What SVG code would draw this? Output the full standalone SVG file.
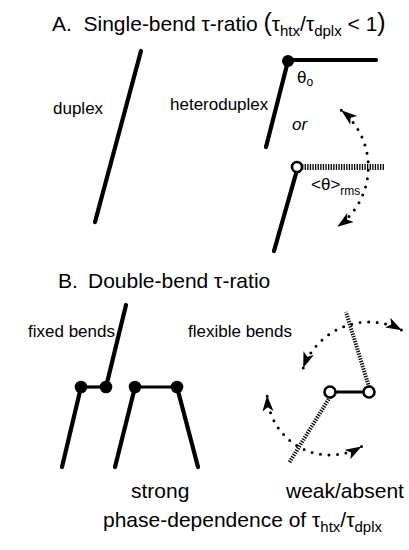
<svg xmlns="http://www.w3.org/2000/svg" width="409" height="550" viewBox="0 0 409 550">
<style>
text{font-family:"Liberation Sans",Arial,sans-serif;fill:#000}
.h{font-size:21px}
.lbl{font-size:17px}
.rod{stroke:#000;stroke-width:4.2;stroke-linecap:round;fill:none}
.bar{stroke:#000;stroke-width:3.2;fill:none}
.hatch{stroke:#000;stroke-dasharray:1.3 1.3;fill:none}
.dots{stroke:#000;stroke-width:3;stroke-linecap:round;stroke-dasharray:0 8.5;fill:none;marker-start:url(#ah);marker-end:url(#ah)}
.fj{fill:#000}
.oj{fill:#fff;stroke:#000;stroke-width:2.6}
</style>
<defs>
<marker id="ah" markerUnits="userSpaceOnUse" markerWidth="18" markerHeight="12" refX="16" refY="5.5" orient="auto-start-reverse" viewBox="0 0 18 12">
<path d="M0,0 L16,5.5 L0,11 L4,5.5 Z" fill="#000"/>
</marker>
</defs>

<g id="titleA">
<text class="h" x="52" y="31">A.<tspan x="83.5">Single-bend τ-ratio </tspan><tspan font-size="25">(</tspan>τ<tspan font-size="15" dy="5">htx</tspan><tspan dy="-5">/τ</tspan><tspan font-size="15" dy="5">dplx</tspan><tspan dy="-5"> &lt; 1</tspan><tspan font-size="25">)</tspan></text>
</g>

<g id="duplex">
<line class="rod" x1="141" y1="51" x2="95" y2="222"/>
<text class="lbl" x="53" y="114">duplex</text>
</g>

<g id="heteroduplex-fixed">
<line class="rod" x1="288" y1="61" x2="266" y2="147"/>
<line class="rod" x1="288" y1="60" x2="376" y2="60" stroke-linecap="butt" stroke-width="4.6"/>
<circle class="fj" cx="288" cy="61" r="6"/>
<text class="lbl" x="170" y="110">heteroduplex</text>
<text class="lbl" x="297" y="83">θ<tspan font-size="12" dy="3">o</tspan></text>
</g>

<g id="or-label">
<text class="lbl" x="292" y="130" font-style="italic">or</text>
</g>

<g id="heteroduplex-flexible">
<line class="rod" x1="297" y1="170" x2="274" y2="251"/>
<line class="hatch" x1="302" y1="167" x2="385" y2="167" stroke-width="6"/>
<circle class="oj" cx="297" cy="167" r="5"/>
<text class="lbl" x="311" y="190">&lt;θ&gt;<tspan font-size="12" dy="5">rms</tspan></text>
</g>

<g id="titleB">
<text class="h" x="58" y="288" font-size="20">B.<tspan x="88">Double-bend τ-ratio</tspan></text>
</g>

<g id="fixed-bends">
<text class="lbl" x="28" y="337" font-size="14.5">fixed bends</text>
<line class="rod" x1="81" y1="387" x2="62" y2="467"/>
<line class="rod" x1="106" y1="387" x2="126" y2="305"/>
<line class="bar" x1="81" y1="387" x2="106" y2="387"/>
<circle class="fj" cx="81" cy="387" r="6.3"/>
<circle class="fj" cx="106" cy="387" r="6.3"/>
<line class="rod" x1="135" y1="387" x2="115" y2="467"/>
<line class="rod" x1="177" y1="387" x2="198" y2="467"/>
<line class="bar" x1="135" y1="387" x2="177" y2="387"/>
<circle class="fj" cx="135" cy="387" r="6.3"/>
<circle class="fj" cx="177" cy="387" r="6.3"/>
<text class="h" x="131" y="498" font-size="20">strong</text>
</g>

<g id="flexible-bends">
<text class="lbl" x="188" y="337">flexible bends</text>
<line class="hatch" x1="369" y1="387" x2="346" y2="312" stroke-width="4"/>
<line class="hatch" x1="330" y1="397" x2="289" y2="463" stroke-width="4"/>
<line class="bar" x1="330" y1="392" x2="369" y2="392" stroke-width="3.6"/>
<circle class="oj" cx="330" cy="392" r="5.5"/>
<circle class="oj" cx="369" cy="392" r="5.5"/>
<text class="h" x="286" y="498" font-size="20">weak/absent</text>
</g>

<g id="connectors">
<path class="dots" d="M341.3,110.3 A73,73 0 0 1 337.3,226.7"/>
<path class="dots" d="M303.2,368.1 A70,70 0 0 1 401.9,330.2"/>
<path class="dots" d="M361.5,446.6 A63,63 0 0 1 267.1,395.3"/>
</g>

<g id="caption">
<text class="h" x="103" y="527">phase-dependence of τ<tspan font-size="15" dy="5">htx</tspan><tspan dy="-5">/τ</tspan><tspan font-size="15" dy="5">dplx</tspan></text>
</g>
</svg>
